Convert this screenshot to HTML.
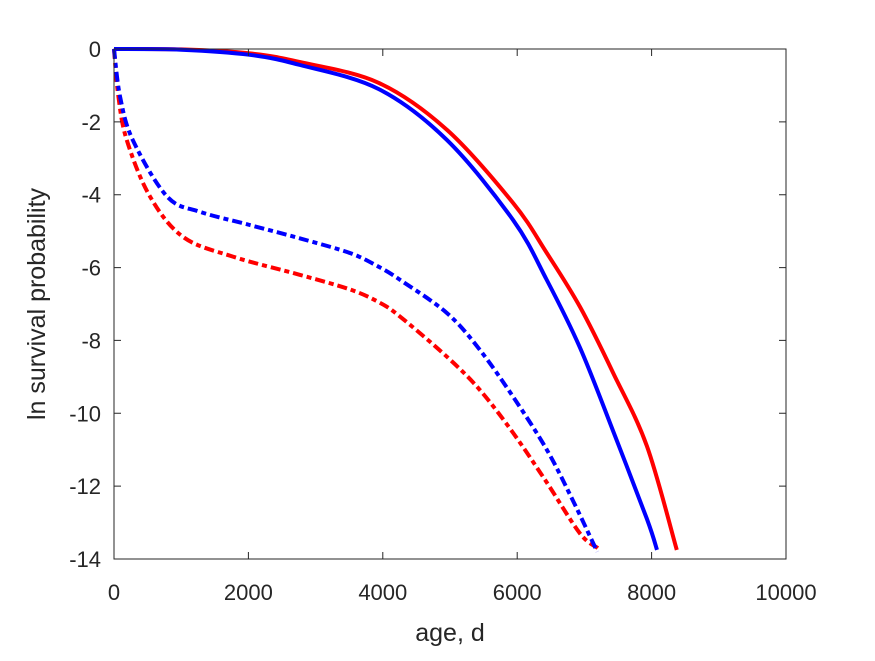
<!DOCTYPE html>
<html><head><meta charset="utf-8"><style>
body{margin:0;background:#fff;}
svg text{font-family:"Liberation Sans",Arial,sans-serif;fill:#262626;}
</style></head><body>
<svg id="chart" width="875" height="656" xmlns="http://www.w3.org/2000/svg">
<rect width="875" height="656" fill="#fff"/>
<g id="series"></g>
<g id="axes"></g>
<text x="450" y="641" font-size="25" text-anchor="middle">age, d</text>
<text transform="translate(45,304) rotate(-90)" font-size="25" text-anchor="middle">ln survival probability</text>
</svg>
<script>
const xTicks=[0,2000,4000,6000,8000,10000];
const yTicks=[0,-2,-4,-6,-8,-10,-12,-14];
const redDashedAges=[0,65,190,535,1030,1770,2770,3510,3940,4260,4955,5445,5940,6440,6935,7200];
const redDashed=[0,-1.3,-2.5,-4.05,-5.16,-5.7,-6.2,-6.6,-6.95,-7.35,-8.45,-9.36,-10.54,-11.9,-13.3,-13.7];
const blueDashedAges=[0,90,280,790,1280,2020,2770,3510,3940,4260,4955,5445,5940,6440,6830,7190];
const blueDashed=[0,-1.3,-2.5,-4.05,-4.47,-4.83,-5.2,-5.6,-5.98,-6.34,-7.25,-8.26,-9.55,-11.0,-12.4,-13.8];
const redSolidAges=[0,1000,2020,2770,3940,4955,5940,6440,6935,7430,7930,8375];
const redSolid=[0,-0.01,-0.12,-0.36,-0.93,-2.22,-4.23,-5.6,-7.08,-8.9,-10.9,-13.75];
const blueSolidAges=[0,1000,2020,2770,3940,4955,5940,6440,6935,7430,7930,8080];
const blueSolid=[0,-0.02,-0.16,-0.44,-1.1,-2.5,-4.7,-6.34,-8.2,-10.5,-12.9,-13.75];
const X0=114,X1=786,Y0=49,Y1=559;
const sx=t=>X0+t/10000*(X1-X0);
const sy=v=>Y0+(0-v)/14*(Y1-Y0);
const NS="http://www.w3.org/2000/svg";
const sg=document.getElementById('series'),ag=document.getElementById('axes');
function line(xs,ys,color,dashed,name){
  const P=xs.map((t,i)=>[sx(t),sy(ys[i])]);
  let d='M'+P[0][0].toFixed(1)+','+P[0][1].toFixed(1);
  for(let i=0;i<P.length-1;i++){
    const p0=P[Math.max(0,i-1)],p1=P[i],p2=P[i+1],p3=P[Math.min(P.length-1,i+2)];
    const c1=[p1[0]+(p2[0]-p0[0])/6,p1[1]+(p2[1]-p0[1])/6];
    const c2=[p2[0]-(p3[0]-p1[0])/6,p2[1]-(p3[1]-p1[1])/6];
    d+=`C${c1[0].toFixed(1)},${c1[1].toFixed(1)} ${c2[0].toFixed(1)},${c2[1].toFixed(1)} ${p2[0].toFixed(1)},${p2[1].toFixed(1)}`;
  }
  const p=document.createElementNS(NS,'path');
  p.setAttribute('d',d);
  p.setAttribute('fill','none');p.setAttribute('stroke',color);p.setAttribute('stroke-width','4');
  p.setAttribute('stroke-linejoin','round');
  if(dashed)p.setAttribute('stroke-dasharray','10,4,5,4');
  
  
  sg.appendChild(p);
}
line(redSolidAges,redSolid,'#ff0000',false,'red-solid-line');
line(blueSolidAges,blueSolid,'#0000ff',false,'blue-solid-line');
line(redDashedAges,redDashed,'#ff0000',true,'red-dashed-line');
line(blueDashedAges,blueDashed,'#0000ff',true,'blue-dashed-line');
const frame=document.createElementNS(NS,'rect');
frame.setAttribute('x',X0);frame.setAttribute('y',Y0);frame.setAttribute('width',X1-X0);frame.setAttribute('height',Y1-Y0);
frame.setAttribute('fill','none');frame.setAttribute('stroke','#262626');frame.setAttribute('stroke-width','1');


ag.appendChild(frame);
xTicks.forEach(t=>{
  const x=sx(t);
  const l=document.createElementNS(NS,'path');
  l.setAttribute('d',`M${x},${Y1}v-7M${x},${Y0}v7`);l.setAttribute('stroke','#262626');
  
  
  ag.appendChild(l);
  const tx=document.createElementNS(NS,'text');
  tx.setAttribute('x',x);tx.setAttribute('y',Y1+41);tx.setAttribute('font-size','22');tx.setAttribute('text-anchor','middle');
  tx.textContent=t;
  
  
  ag.appendChild(tx);
});
yTicks.forEach(v=>{
  const y=sy(v);
  const l=document.createElementNS(NS,'path');
  l.setAttribute('d',`M${X0},${y}h7M${X1},${y}h-7`);l.setAttribute('stroke','#262626');
  
  
  ag.appendChild(l);
  const tx=document.createElementNS(NS,'text');
  tx.setAttribute('x',X0-13);tx.setAttribute('y',y+8);tx.setAttribute('font-size','22');tx.setAttribute('text-anchor','end');
  tx.textContent=v;
  
  
  ag.appendChild(tx);
});
</script>
</body></html>
